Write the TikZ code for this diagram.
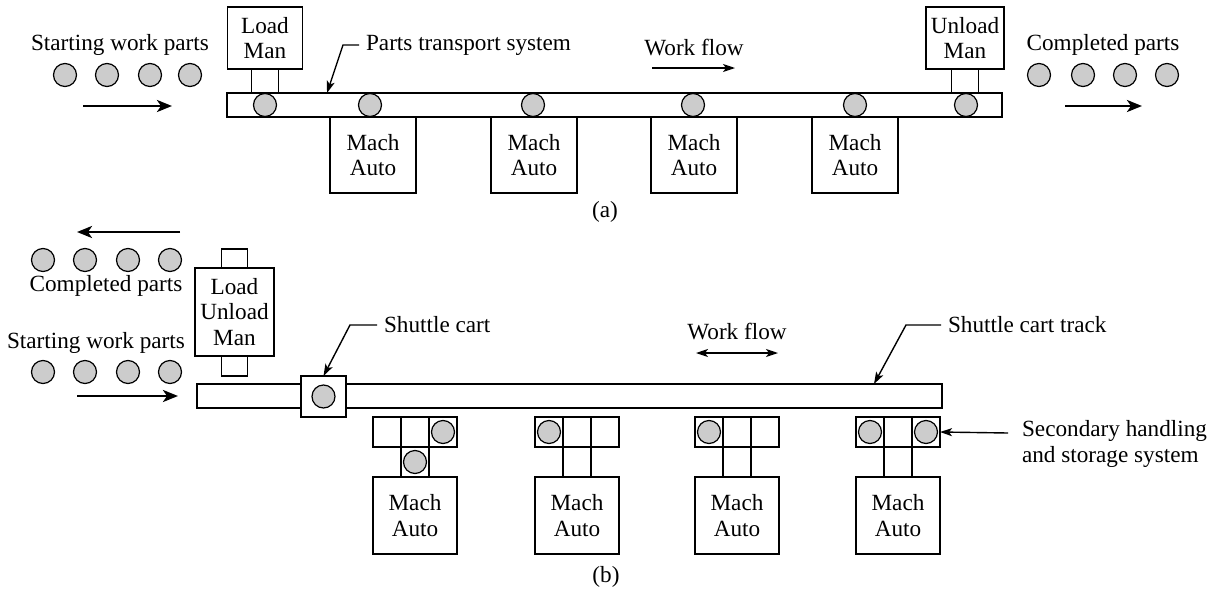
\documentclass[tikz,border=0pt]{standalone}
\usepackage{fontspec}
\setmainfont{Liberation Serif}
\usepackage{tikz}
\usetikzlibrary{shapes,arrows,arrows.meta,positioning,calc}

\begin{document}
\begin{tikzpicture}[
    x=0.5pt, y=-0.5pt,
    font=\fontsize{11.6pt}{12.6pt}\selectfont,
    box/.style={rectangle, draw=black, line width=0.7pt, fill=white, inner sep=0pt, outer sep=0pt, align=center},
    machine/.style={box, minimum width=42pt, minimum height=38pt},
    tab/.style={box, minimum width=13.5pt, minimum height=12pt},
    cell/.style={box, fill=none, minimum width=14pt, minimum height=15pt},
    part/.style={circle, draw=black, line width=0.6pt, fill=black!20, minimum size=11.5pt, inner sep=0pt},
    flow/.style={-{Stealth[length=7.5pt, width=6pt, inset=2pt]}, line width=1.3pt},
    arrow/.style={-{Stealth[length=6pt, width=4pt, inset=1.5pt]}, line width=0.7pt}
]
\useasboundingbox (0,0) rectangle (1216,595);

% (a) in-line transfer system
\node[box, minimum width=387.5pt, minimum height=12pt] (conveyor) at (614.5,105) {};
\node[box, minimum width=37.5pt, minimum height=31pt] (loadA) at (265,38) {Load\\Man};
\node[tab, below=0pt of loadA] (loadTabA) {};
\node[box, minimum width=39pt, minimum height=31pt] (unloadA) at (965,38) {Unload\\Man};
\node[tab, below=0pt of unloadA] (unloadTabA) {};
\foreach \x [count=\i] in {373,534,694,855}
  \node[machine, minimum width=43pt, anchor=north] (machA\i) at (\x,117) {Mach\\Auto};
\foreach \x [count=\i] in {265,370,533,693,855,966}
  \node[part] (onA\i) at (\x,105) {};

\node (startA) at (120,45) {Starting work parts};
\foreach \x [count=\i] in {65,107,150,190}
  \node[part] (inA\i) at (\x,75) {};
\coordinate (inTailA) at (83,106);
\coordinate (inHeadA) at (172,106);
\draw[flow] (inTailA) -- (inHeadA);

\node (doneA) at (1103,45) {Completed parts};
\foreach \x [count=\i] in {1039,1083,1125,1167}
  \node[part] (outA\i) at (\x,75) {};
\coordinate (outTailA) at (1065,106);
\coordinate (outHeadA) at (1142,106);
\draw[flow] (outTailA) -- (outHeadA);

\node[anchor=west] (transportLbl) at (359,45) {Parts transport system};
\coordinate (transportHit) at (327,93);
\draw[arrow] (transportLbl.west) -- ++(-16,0) -- (transportHit);

\node (flowA) at (694,48) {Work flow};
\coordinate (flowTailA) at (652,68);
\coordinate (flowHeadA) at (735,68);
\draw[arrow] (flowTailA) -- (flowHeadA);

\node (capA) at (605,212) {(a)};

% (b) shuttle cart system
\node[box, minimum width=372.5pt, minimum height=12pt] (track) at (569.5,396) {};
\node[box, minimum width=22.5pt, minimum height=20.5pt] (cart) at (323.5,396.5) {};
\node[part] (cartPart) at (cart.center) {};
\node[box, minimum width=39.5pt, minimum height=44pt] (loadB) at (234.5,312) {Load\\Unload\\Man};
\node[tab, minimum width=13pt, minimum height=9.5pt, above=0pt of loadB] (loadTopB) {};
\node[tab, minimum width=13pt, minimum height=10pt, below=0pt of loadB] (loadBotB) {};

\foreach \x/\l/\r/\s [count=\i] in {373/0/1/1, 535/1/0/0, 695/1/0/0, 856/1/1/0} {
  \node[cell, anchor=north west] (left\i) at (\x,417) {};
  \node[cell, right=0pt of left\i] (mid\i) {};
  \node[cell, right=0pt of mid\i] (right\i) {};
  \node[cell, below=0pt of mid\i] (stub\i) {};
  \node[machine, minimum height=38.5pt, below=0pt of stub\i] (machB\i) {Mach\\Auto};
  \ifnum\l=1 \node[part] (bufL\i) at (left\i) {}; \fi
  \ifnum\r=1 \node[part] (bufR\i) at (right\i) {}; \fi
  \ifnum\s=1 \node[part] (bufS\i) at (stub\i) {}; \fi
}

\coordinate (outTailB) at (180,232);
\coordinate (outHeadB) at (77,232);
\draw[flow] (outTailB) -- (outHeadB);
\foreach \x [count=\i] in {43,85,128,170}
  \node[part] (outB\i) at (\x,260) {};
\node (doneB) at (106,286) {Completed parts};
\node (startB) at (96,343) {Starting work parts};
\foreach \x [count=\i] in {43,85,128,170}
  \node[part] (inB\i) at (\x,372) {};
\coordinate (inTailB) at (77,396);
\coordinate (inHeadB) at (178,396);
\draw[flow] (inTailB) -- (inHeadB);

\node[anchor=west] (cartLbl) at (377,325) {Shuttle cart};
\draw[arrow] (cartLbl.west) -- ++(-27,0) -- (cart.north);

\node (flowB) at (737,332) {Work flow};
\coordinate (flowLeftB) at (696,353);
\coordinate (flowRightB) at (778,353);
\draw[arrow, {Stealth[length=6pt, width=4pt, inset=1.5pt]}-{Stealth[length=6pt, width=4pt, inset=1.5pt]}] (flowLeftB) -- (flowRightB);

\node[anchor=west] (trackLbl) at (941,325) {Shuttle cart track};
\coordinate (trackHit) at (874,384);
\draw[arrow] (trackLbl.west) -- ++(-35,0) -- (trackHit);

\node[anchor=west, align=left] (storeLbl) at (1015,444) {Secondary handling\\and storage system};
\coordinate (storeTail) at (1008,433);
\draw[arrow] (storeTail) -- (right4.east);

\node (capB) at (606,577) {(b)};
\end{tikzpicture}
\end{document}
